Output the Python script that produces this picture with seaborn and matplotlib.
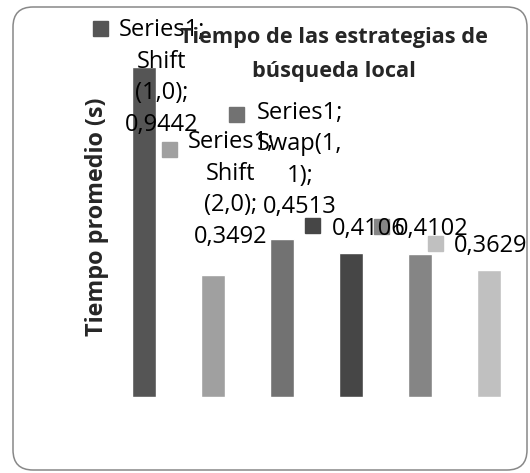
import matplotlib
matplotlib.use("Agg")
import matplotlib.pyplot as plt
import seaborn as sns
import pandas as pd
from matplotlib.patches import FancyBboxPatch
from matplotlib.transforms import IdentityTransform, offset_copy

# --- datos del grafico ---
estrategias = ["Shift (1,0)", "Shift (2,0)", "Swap(1, 1)", "Estrategia 4", "Estrategia 5", "Estrategia 6"]
tiempos = [0.9442, 0.3492, 0.4513, 0.4106, 0.4102, 0.3629]
prefijos = ["Series1;\nShift\n(1,0);", "Series1;\nShift\n(2,0);", "Series1;\nSwap(1,\n1);", "", "", ""]
colores = ["#555555", "#a0a0a0", "#727272", "#464646", "#858585", "#c0c0c0"]

titulo = "Tiempo de las estrategias de\nbúsqueda local"
etiqueta_y = "Tiempo promedio (s)"

# desplazamientos (pixeles) de las etiquetas y de las claves respecto al tope de cada barra
texto_dx = [18, 18, 18, 18, 12, 2]
texto_dy = [-64, 32, 26, 18.5, 18.5, 18]
clave_dx = [-44, -44, -46.5, -39.5, -39, -54.5]
clave_dy = [39.5, 125.5, 125.5, 28, 28, 27.5]

sns.set_style("white")
plt.rcParams["font.family"] = ["Open Sans", "DejaVu Sans"]

df = pd.DataFrame({"estrategia": estrategias, "tiempo": tiempos})

W, H = 530, 473
fig = plt.figure(figsize=(W / 100, H / 100), dpi=100)
ax = fig.add_axes([109.5 / W, (H - 397) / H, 414 / W, 349.5 / H])

sns.barplot(data=df, x="estrategia", y="tiempo", hue="estrategia", palette=colores,
            width=0.35, saturation=1, legend=False, ax=ax)
ax.set_xlim(-0.5, 5.5)
ax.set_ylim(0, 1)
ax.set_xticks([])
ax.set_yticks([])
ax.set_xlabel("")
sns.despine(ax=ax, left=True, bottom=True)

ax.set_ylabel(etiqueta_y, fontsize=16.8, fontweight="bold")
ax.yaxis.set_label_coords(-0.002, 0.515)

ax.set_title(titulo, x=0.542, y=0.9156, pad=0, va="baseline", fontsize=15.7,
             fontweight="bold", linespacing=1.8)

# etiquetas de datos con clave de leyenda
for i, v in enumerate(tiempos):
    valor = f"{v:.4f}".replace(".", ",")
    texto = prefijos[i] + "\n" + valor if prefijos[i] else valor
    ax.annotate(texto, xy=(i, v), xytext=(texto_dx[i], texto_dy[i]),
                textcoords="offset pixels", ha="center", va="baseline",
                multialignment="center", fontsize=17, linespacing=1.42,
                color="black", annotation_clip=False)
    tr = offset_copy(ax.transData, fig=fig, x=clave_dx[i], y=clave_dy[i], units="dots")
    ax.plot([i], [v], marker="s", markersize=10.8, color=colores[i],
            linestyle="none", transform=tr, clip_on=False)

# borde redondeado del area del grafico
borde = FancyBboxPatch((13, 3), 514, 463, boxstyle="round,pad=0,rounding_size=20",
                       transform=IdentityTransform(), facecolor="none",
                       edgecolor="#888888", linewidth=1.1)
fig.patches.append(borde)

fig.savefig("out.png", dpi=100)
